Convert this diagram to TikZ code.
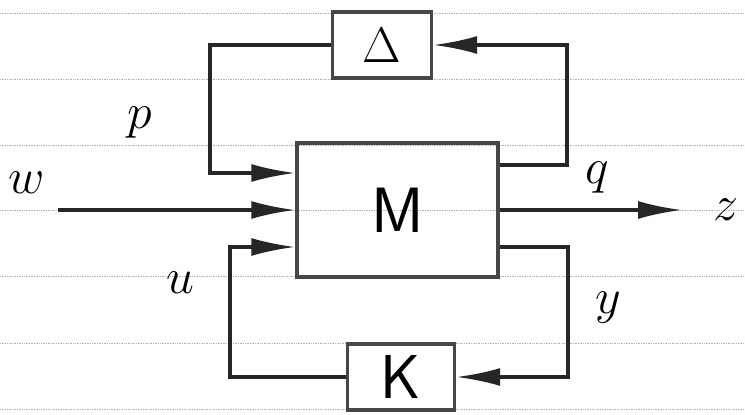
\RequirePackage{fix-cm}
\documentclass[tikz,border=0pt]{standalone}
\usetikzlibrary{arrows.meta,calc}
\begin{document}
\begin{tikzpicture}[x=1pt,y=1pt,
  ruled/.style={gray!60,line width=0.7pt,densely dotted},
  blockbox/.style={draw=black!72,line width=3.4pt,inner sep=0pt,fill=none},
  wire/.style={black!85,line width=3.2pt},
  arr/.style={wire,-{Latex[length=44pt,width=18pt]}},
  lbl/.style={inner sep=0pt,font=\fontsize{50}{50}\selectfont}
]
\useasboundingbox (0,0) rectangle (745,415);
% notebook ruling
\foreach \yy in {402,336,270,205,139,72,6}
  \draw[ruled] (0,\yy) -- (745,\yy);
% blocks
\node[blockbox,minimum width=99pt,minimum height=66pt,font=\fontsize{50}{50}\selectfont] (D) at (382,370) {$\Delta$};
\node[blockbox,minimum width=201pt,minimum height=134pt,font=\fontsize{64}{64}\selectfont\sffamily] (M) at (397.5,205) {M};
\node[blockbox,minimum width=107pt,minimum height=66pt,font=\fontsize{62}{62}\selectfont\sffamily] (K) at (401,38) {K};
% free ends
\coordinate (tl) at (210,370);
\coordinate (tlb) at (210,242);
\coordinate (bl) at (230,38);
\coordinate (blt) at (230,168);
\coordinate (tr) at (567,370);
\coordinate (trb) at (567,250);
\coordinate (br) at (568,38);
\coordinate (brt) at (568,168);
\coordinate (win) at (58,205);
\coordinate (zout) at (682,205);
% connectors
\draw[arr] (D.west) -- (tl) -- (tlb) -- ($(M.west)+(0,37)$);
\draw[arr] (win) -- (M.west);
\draw[arr] (K.west) -- (bl) -- (blt) -- ($(M.west)+(0,-37)$);
\draw[arr] ($(M.east)+(0,45)$) -- (trb) -- (tr) -- (D.east);
\draw[arr] (M.east) -- (zout);
\draw[arr] ($(M.east)+(0,-37)$) -- (brt) -- (br) -- (K.east);
% labels
\node[lbl] (lp) at (140,292) {$p$};
\node[lbl] (lq) at (597,237) {$q$};
\node[lbl] (lw) at (27,232) {$w$};
\node[lbl] (lz) at (726,205) {$z$};
\node[lbl] (lu) at (180,132) {$u$};
\node[lbl] (ly) at (608,107) {$y$};
\end{tikzpicture}
\end{document}
